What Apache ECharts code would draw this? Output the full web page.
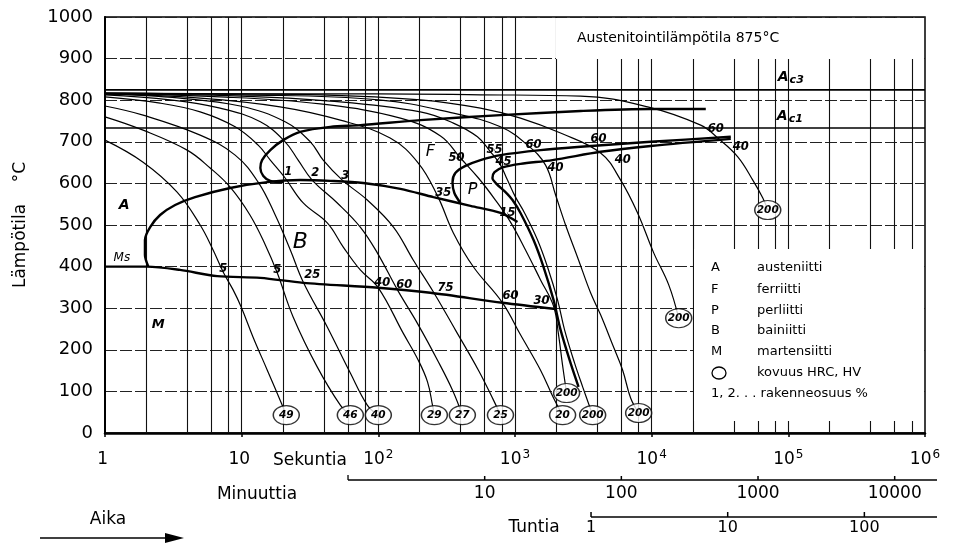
<!DOCTYPE html>
<html><head><meta charset="utf-8">
<script src="https://cdn.jsdelivr.net/npm/echarts@6/dist/echarts.min.js"></script>
<style>html,body{margin:0;padding:0;background:#fff}#c{width:957px;height:544px}</style>
</head><body><div id="c"></div>
<script>
// ---------------- data (time in seconds, temperature in °C) ----------------
const gridTimes = [2,4,6,8,10,20,40,60,80,100,200,400,600,800,1000,2000,4000,6000,8000,
  10000,20000,40000,60000,80000,100000,200000,400000,600000,800000];
const ac3Temp = 825;
const ac1Temp = 733;

const hardnessLabels = ['49','46','40','29','27','25','20','200','200','200','200','200'];
const hardnessTime   = [21.2, 62.4, 100, 257, 412, 783, 2230, 2385, 3700, 8030, 15770, 70700];
const hardnessTemp   = [43, 43, 43, 43, 43, 43, 43, 96, 43, 48, 276, 536];

const curve49 = [[1,704],[1.9,651],[3.37,579],[4.97,500],[6.18,440],[7.32,387],[8.66,344],[9.92,303],[12.1,231],[15.4,151],[19.5,72]];
const curve46 = [[1,760],[1.9,728],[3.99,680],[5.88,637],[8.24,591],[11.5,524],[14.9,452],[18.2,385],[23.8,279],[35.7,159],[52.7,67]];
const curve40 = [[1,786],[1.9,764],[4.97,716],[8.96,668],[13.2,603],[17.6,524],[22.7,440],[28.2,363],[42.3,255],[62.4,144],[83,67]];
const curve29 = [[1,808],[2.53,793],[4.97,772],[8.96,736],[13.2,692],[16.2,656],[20.8,613],[28.2,553],[42.3,505],[55.4,447],[73.8,392],[100,349],[152,240],[196,175],[229,123],[249,67]];
const curve27 = [[1,813],[2.99,801],[6.96,781],[13.7,748],[20.8,700],[25.9,656],[32.8,608],[50.1,553],[73.8,495],[98.3,433],[138,344],[196,260],[271,175],[349,103]];
const curve25 = [[1,815],[3.54,805],[9.75,786],[20.8,748],[31.8,700],[39.5,656],[54.5,608],[83,560],[129,495],[180,416],[253,339],[366,248],[540,151],[696,79]];
const curve20 = [[1,815],[4.97,805],[19.1,784],[52.7,752],[122,709],[196,649],[271,570],[354,481],[497,399],[810,313],[1097,236],[1538,151],[1914,84]];
const curve200a = [[1,815],[6.96,808],[37.6,791],[145,757],[285,714],[399,661],[540,613],[719,560],[927,507],[1194,440],[1538,368],[1914,305],[2083,236],[2228,163]];
const curve200b = [[1,815],[9.92,810],[44.5,798],[203,772],[354,745],[531,712],[662,676],[783,644],[881,608],[1009,567],[1175,529],[1462,464],[1730,399],[2048,320],[2305,248],[2730,168],[3126,111]];
const curve200c = [[1,817],[9.92,813],[100,801],[354,769],[783,736],[1235,692],[1673,644],[1982,572],[2344,500],[2917,416],[3573,337],[4230,284],[5180,212],[6135,151],[7015,84]];
const curve200d = [[1,817],[9.92,815],[37.6,813],[203,801],[559,781],[1097,757],[2155,721],[4230,673],[5930,608],[7890,529],[10350,433],[13330,356]];
const curve200e = [[1,817],[9.92,815],[100,815],[559,813],[3020,810],[9350,784],[22850,740],[30470,709],[42660,664],[54950,608],[65040,565]];

const ferriteStart = [[24890,779],[9840,779],[3020,774],[783,764],[203,752],[73.8,740],[44.5,736],[26.8,724],[20.1,704],[16.2,680],[14.1,656],[13.7,637],[14.4,618],[16.2,606],[20.1,603]];
const bainiteStart = [[2.07,401],[1.96,428],[1.96,464],[2.14,495],[2.53,524],[3.26,548],[4.56,567],[8.24,589],[15.4,603],[26.8,608],[44.5,606],[77.6,601],[145,587],[253,567],[472,546],[783,529],[1043,507]];
const martensiteStart = [[1,400],[2.03,400],[3.54,392],[6.62,377],[13.7,373],[28.2,361],[100,349],[240,337],[810,313],[1982,298]];
const pearliteStart = [[37930,712],[9840,700],[3020,688],[1538,680],[783,668],[559,656],[434,642],[366,625],[349,603],[360,577],[399,553]];
const pearliteFinish = [[37930,707],[9840,690],[4230,676],[1883,656],[1097,647],[824,639],[708,627],[684,613],[732,599],[852,579],[959,560],[1097,529],[1367,464],[1618,399],[1914,320],[2155,248],[2552,168],[2917,111]];

const fractionText = ['1','2','3','5','5','25','40','60','75','60','30','35','15','50','55','45','60','40','60','40','60','40'];
const fractionTime = [21.9,34.5,57.3,7.32,18.2,32.8,107,155,310,927,1563,299,881,373,708,824,1367,1982,4090,6135,29440,44870];
const fractionTemp = [627,625,618,394,392,380,361,356,349,329,317,577,529,661,680,651,692,637,707,656,731,688];

const regionText = ['A','Ms','M','B','F','P'];
const regionTime = [1.38,1.33,2.45,26.8,240,489];
const regionTemp = [548,421,260,459,676,584];

const acText = ['c3','c1'];
const acTime = [104200,102600];
const acTemp = [856,762];

const minuteTicks = [10,100,1000,10000];
const hourTicks = [1,10,100];
const legendKeys = ['A','F','P','B','M'];
const legendTexts = ['austeniitti','ferriitti','perliitti','bainiitti','martensiitti','kovuus HRC, HV'];
const legendNote = '1, 2. . . rakenneosuus %';
const titleText = 'Austenitointilämpötila 875°C';

// ---------------- chart ----------------
const FONT = 'DejaVu Sans';
const chart = echarts.init(document.getElementById('c'));
const coolingCurves = [curve49,curve46,curve40,curve29,curve27,curve25,curve20,curve200a,curve200b,curve200c,curve200d,curve200e];
const boundaries = [ferriteStart,bainiteStart,martensiteStart,pearliteStart,pearliteFinish];
const noBorder = {textBorderWidth:0, textBorderColor:'transparent', textShadowBlur:0, opacity:1};

const series = [];
series.push({type:'line', data:[[1,ac3Temp],[1e6,ac3Temp]], symbol:'none', silent:true,
  lineStyle:{color:'#000', width:1.8}, z:3,
  markLine:{silent:true, symbol:['none','none'], label:{show:false}, z:1,
    lineStyle:{color:'#111', width:1.1, type:'solid'},
    data: gridTimes.map(v => ({xAxis:v}))}});
series.push({type:'line', data:[[1,ac1Temp],[1e6,ac1Temp]], symbol:'none', silent:true,
  lineStyle:{color:'#000', width:1.6}, z:3});
coolingCurves.forEach((c,i) => series.push({type:'line',
  data: c.concat([[hardnessTime[i], hardnessTemp[i]]]), symbol:'none', silent:true,
  smooth:0.4, lineStyle:{color:'#000', width:1.2}, z:3}));
boundaries.forEach(b => series.push({type:'line', data:b, symbol:'none', silent:true,
  smooth:0.3, lineStyle:{color:'#000', width:2.4}, z:4}));
series.push({type:'scatter', silent:true, z:8,
  data: hardnessLabels.map((s,i) => [hardnessTime[i], hardnessTemp[i], s]),
  symbol:'circle', symbolSize:[26,19],
  itemStyle:{color:'#fff', borderColor:'#000', borderWidth:1.3},
  label:Object.assign({show:true, position:'inside', formatter:p => p.value[2], color:'#000',
    fontFamily:FONT, fontStyle:'italic', fontWeight:'bold', fontSize:10.5}, noBorder)});
series.push({type:'scatter', silent:true, z:9,
  data: fractionText.map((s,i) => [fractionTime[i], fractionTemp[i], s]),
  symbol:'circle', symbolSize:1, itemStyle:{color:'#000', opacity:1},
  label:Object.assign({show:true, position:'inside', formatter:p => p.value[2], color:'#000',
    fontFamily:FONT, fontStyle:'italic', fontWeight:'bold', fontSize:11.5}, noBorder)});
const regionStyle = {A:'r1', Ms:'r4', M:'r3', B:'r2', F:'r5', P:'r5'};
series.push({type:'scatter', silent:true, z:9,
  data: regionText.map((s,i) => [regionTime[i], regionTemp[i], s]),
  symbolSize:1, itemStyle:{color:'#fff'},
  label:Object.assign({show:true, position:'inside', color:'#000',
    formatter:p => '{' + regionStyle[p.value[2]] + '|' + p.value[2] + '}',
    rich:{
      r1:Object.assign({fontFamily:FONT, fontStyle:'italic', fontWeight:'bold', fontSize:14, color:'#000'}, noBorder),
      r2:Object.assign({fontFamily:FONT, fontStyle:'italic', fontSize:22, color:'#000'}, noBorder),
      r3:Object.assign({fontFamily:FONT, fontStyle:'italic', fontWeight:'bold', fontSize:13, color:'#000'}, noBorder),
      r4:Object.assign({fontFamily:FONT, fontStyle:'italic', fontSize:12, color:'#000'}, noBorder),
      r5:Object.assign({fontFamily:FONT, fontStyle:'italic', fontSize:16, color:'#000'}, noBorder)
    }}, noBorder)});
series.push({type:'scatter', silent:true, z:9,
  data: acText.map((s,i) => [acTime[i], acTemp[i], s]),
  symbolSize:1, itemStyle:{color:'#fff'},
  label:Object.assign({show:true, position:'inside', color:'#000',
    formatter:p => '{a|A}{s|' + p.value[2] + '}',
    rich:{
      a:Object.assign({fontFamily:FONT, fontStyle:'italic', fontWeight:'bold', fontSize:14, color:'#000'}, noBorder),
      s:Object.assign({fontFamily:FONT, fontStyle:'italic', fontWeight:'bold', fontSize:11, color:'#000', padding:[7,0,0,1]}, noBorder)
    }}, noBorder)});

chart.setOption({
  animation:false,
  backgroundColor:'#fff',
  grid:{left:105, right:32, top:17, bottom:111, show:true, borderColor:'#000', borderWidth:1.5},
  xAxis:{type:'log', logBase:10, min:1, max:1e6,
    axisLine:{lineStyle:{color:'#000', width:2.5}},
    axisTick:{show:true, length:4, lineStyle:{color:'#000', width:1.5}},
    splitLine:{show:false},
    axisLabel:{margin:16, color:'#000',
      formatter: v => {
        const e = Math.round(Math.log10(v));
        if (e === 0) return '{b|1}{s| }';
        if (e === 1) return '{b|10}{s| }';
        return '{b|10}{s|' + e + '}';
      },
      rich:{
        b:{fontFamily:FONT, fontSize:17, color:'#000'},
        s:{fontFamily:FONT, fontSize:12, color:'#000', padding:[0,0,9,1]}
      }}},
  yAxis:{type:'value', min:0, max:1000, interval:100,
    axisLine:{show:true, lineStyle:{color:'#000', width:2}},
    axisTick:{show:false},
    splitLine:{show:true, lineStyle:{color:'#222', width:1, type:[12,3]}},
    axisLabel:{fontFamily:FONT, fontSize:18, color:'#000', margin:12, formatter: v => String(v)},
    name:'Lämpötila    °C', nameLocation:'middle', nameGap:76,
    nameTextStyle:{fontFamily:FONT, fontSize:17, color:'#000'}},
  series
});

// ---------------- secondary scales & annotations ----------------
const px = t => chart.convertToPixel({xAxisIndex:0}, t);
const txt = (x, y, text, size, align, extra) => ({type:'text', z:12, x, y,
  style:Object.assign({text, fill:'#000', font: size + 'px "DejaVu Sans"',
    textAlign:align||'center', align:align||'center',
    textVerticalAlign:'middle', verticalAlign:'middle'}, extra||{})});
const ln = (x1,y1,x2,y2,w) => ({type:'line', z:12, shape:{x1,y1,x2,y2}, style:{stroke:'#000', lineWidth:w||1.3}});
const g = [];
// title box
g.push({type:'rect', z:10, shape:{x:556, y:18, width:368, height:41}, style:{fill:'#fff'}});
g.push(txt(577, 38, titleText, 14, 'left'));
// legend box
g.push({type:'rect', z:10, shape:{x:694, y:249, width:230, height:172}, style:{fill:'#fff'}});
const rowY = [268,290,311,331,352,373,394];
legendKeys.forEach((k,i) => g.push(txt(711, rowY[i], k, 13, 'left')));
legendTexts.forEach((k,i) => g.push(txt(757, rowY[i], k, 13, 'left')));
g.push({type:'ellipse', z:12, shape:{cx:719, cy:373, rx:7, ry:6}, style:{fill:'none', stroke:'#000', lineWidth:1.3}});
g.push(txt(711, rowY[6], legendNote, 13, 'left'));
// seconds word
g.push(txt((px(10)+px(100))/2, 461, 'Sekuntia', 17));
// minutes scale
const minY = 480, hourY = 517, right = 937;
g.push(ln(px(60), minY, right, minY, 1.3));
g.push(ln(px(60), minY-5, px(60), minY, 1.3));
minuteTicks.forEach(m => { g.push(ln(px(m*60), minY-4, px(m*60), minY, 1.5)); g.push(txt(px(m*60), minY+14, String(m), 17)); });
g.push(txt(257, 495, 'Minuuttia', 17));
// hours scale
g.push(ln(px(3600), hourY, right, hourY, 1.3));
hourTicks.forEach(h => { g.push(ln(px(h*3600), hourY-5, px(h*3600), hourY, 1.5)); g.push(txt(px(h*3600), hourY+11, String(h), 16)); });
g.push(txt(534, 528, 'Tuntia', 17));
// time arrow
g.push(txt(108, 520, 'Aika', 17));
g.push(ln(40, 538, 168, 538, 1.6));
g.push({type:'polygon', z:12, shape:{points:[[165,533],[184,538],[165,543]]}, style:{fill:'#000'}});
chart.setOption({graphic:g});
</script>
</body></html>
